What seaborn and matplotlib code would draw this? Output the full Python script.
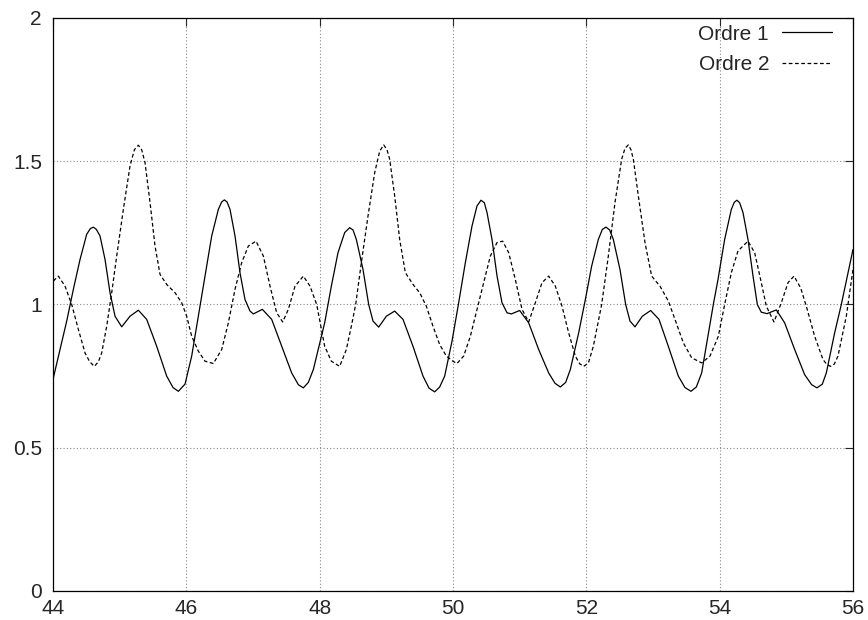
"""Two-curve comparison chart (gnuplot look) drawn with seaborn."""

import matplotlib
matplotlib.use('Agg')
import matplotlib.pyplot as plt
import seaborn as sns
import pandas as pd


# Ordre 1 (solid curve)
x_ordre1 = [44.005, 44.105, 44.205, 44.305, 44.405, 44.505, 44.56, 44.605, 44.65, 44.705, 44.78, 44.855,
            44.93, 45.03, 45.155, 45.28, 45.405, 45.555, 45.705, 45.8, 45.88, 45.98,
            46.08, 46.18, 46.28, 46.38, 46.48, 46.53, 46.57, 46.61, 46.655, 46.73, 46.805, 46.88,
            46.955, 47.005, 47.14, 47.28, 47.43, 47.58, 47.68, 47.755, 47.83, 47.905, 47.975,
            48.075, 48.175, 48.275, 48.375, 48.45, 48.5, 48.55, 48.65, 48.735, 48.8, 48.885,
            49.0, 49.125, 49.25, 49.4, 49.55, 49.64, 49.725, 49.8, 49.875, 49.985,
            50.085, 50.185, 50.285, 50.36, 50.42, 50.47, 50.51, 50.585, 50.66, 50.735, 50.81,
            50.875, 51.0, 51.135, 51.285, 51.435, 51.53, 51.61, 51.69, 51.76, 51.885, 51.985,
            52.08, 52.18, 52.24, 52.295, 52.35, 52.405, 52.505, 52.59, 52.655, 52.73, 52.84, 52.965,
            53.09, 53.23, 53.38, 53.48, 53.57, 53.65, 53.73, 53.905, 53.975,
            54.075, 54.175, 54.22, 54.26, 54.3, 54.35, 54.425, 54.5, 54.565, 54.625, 54.71, 54.85,
            54.975, 55.125, 55.275, 55.38, 55.46, 55.54, 55.6, 55.725, 55.825, 56.0]
y_ordre1 = [0.744, 0.843, 0.942, 1.053, 1.157, 1.245, 1.265, 1.27, 1.262, 1.239, 1.157, 1.041,
            0.959, 0.922, 0.959, 0.98, 0.948, 0.854, 0.75, 0.71, 0.697, 0.722,
            0.82, 0.959, 1.1, 1.239, 1.332, 1.358, 1.365, 1.358, 1.332, 1.239, 1.11, 1.017,
            0.977, 0.967, 0.983, 0.948, 0.854, 0.761, 0.72, 0.709, 0.728, 0.773, 0.84,
            0.936, 1.064, 1.181, 1.251, 1.268, 1.26, 1.227, 1.122, 1.0, 0.942, 0.921,
            0.959, 0.977, 0.948, 0.854, 0.75, 0.708, 0.695, 0.712, 0.75, 0.872,
            1.006, 1.146, 1.274, 1.344, 1.364, 1.355, 1.321, 1.227, 1.1, 1.006, 0.971,
            0.967, 0.979, 0.936, 0.843, 0.761, 0.725, 0.712, 0.728, 0.773, 0.901, 1.017,
            1.134, 1.227, 1.262, 1.27, 1.26, 1.227, 1.122, 1.0, 0.942, 0.922, 0.959, 0.979,
            0.948, 0.854, 0.75, 0.71, 0.697, 0.712, 0.761, 1.0, 1.087,
            1.227, 1.332, 1.357, 1.364, 1.355, 1.321, 1.227, 1.1, 1.0, 0.973, 0.968, 0.981,
            0.936, 0.843, 0.755, 0.72, 0.709, 0.722, 0.761, 0.901, 1.0, 1.192]

# Ordre 2 (dashed curve)
x_ordre2 = [44.005, 44.08, 44.18, 44.28, 44.38, 44.48, 44.55, 44.62, 44.68, 44.73, 44.805, 44.88,
            44.955, 45.055, 45.155, 45.22, 45.28, 45.33, 45.38, 45.455, 45.53, 45.605, 45.705, 45.83,
            45.93, 46.005, 46.08, 46.18, 46.28, 46.405, 46.53, 46.63, 46.73, 46.83,
            46.93, 47.045, 47.155, 47.255, 47.355, 47.445, 47.53, 47.63, 47.755, 47.855,
            47.955, 48.075, 48.175, 48.3, 48.4, 48.475, 48.54, 48.625, 48.725, 48.825,
            48.9, 48.96, 49.01, 49.05, 49.125, 49.2, 49.285, 49.4, 49.5, 49.6, 49.7, 49.8,
            49.9, 50.0, 50.06, 50.16, 50.26, 50.36, 50.46, 50.56, 50.66, 50.745,
            50.835, 50.935, 51.035, 51.135, 51.235, 51.335, 51.435, 51.535, 51.635, 51.735,
            51.835, 51.9, 51.96, 52.03, 52.105, 52.23, 52.33, 52.43, 52.53, 52.58, 52.63, 52.67, 52.705, 52.78,
            52.88, 52.98, 53.105, 53.23, 53.33, 53.455, 53.58, 53.73, 53.855, 53.98,
            54.075, 54.175, 54.275, 54.425, 54.525, 54.625, 54.7, 54.815, 54.925, 55.025,
            55.115, 55.215, 55.3, 55.425, 55.55, 55.61, 55.665, 55.72, 55.775, 55.9, 56.0]
y_ordre2 = [1.082, 1.099, 1.064, 1.0, 0.913, 0.831, 0.8, 0.784, 0.8, 0.831, 0.924, 1.041,
            1.169, 1.332, 1.484, 1.54, 1.556, 1.54, 1.495, 1.356, 1.204, 1.105, 1.07, 1.041,
            1.006, 0.959, 0.889, 0.837, 0.802, 0.794, 0.843, 0.936, 1.053, 1.146,
            1.204, 1.221, 1.169, 1.064, 0.971, 0.939, 0.983, 1.064, 1.099, 1.064,
            1.0, 0.854, 0.802, 0.784, 0.843, 0.924, 1.0, 1.146, 1.309, 1.46,
            1.535, 1.557, 1.54, 1.507, 1.379, 1.227, 1.111, 1.07, 1.041, 0.994, 0.924, 0.86,
            0.82, 0.802, 0.794, 0.82, 0.889, 0.983, 1.076, 1.169, 1.216, 1.221,
            1.181, 1.087, 0.983, 0.939, 1.006, 1.076, 1.099, 1.064, 0.994, 0.901,
            0.82, 0.793, 0.784, 0.795, 0.854, 1.0, 1.169, 1.356, 1.507, 1.545, 1.557, 1.54, 1.507, 1.379,
            1.216, 1.099, 1.064, 1.012, 0.948, 0.866, 0.814, 0.796, 0.82, 0.889,
            1.0, 1.111, 1.187, 1.221, 1.181, 1.076, 0.994, 0.939, 1.006, 1.076,
            1.099, 1.058, 0.994, 0.889, 0.808, 0.79, 0.784, 0.792, 0.82, 0.959, 1.122]

x_ticks = [44, 46, 48, 50, 52, 54, 56]
y_ticks = [0, 0.5, 1, 1.5, 2]
y_tick_labels = ['0', '0.5', '1', '1.5', '2']

sns.set_style('white')
plt.rcParams['font.family'] = ['Liberation Sans', 'DejaVu Sans']

df1 = pd.DataFrame({'x': x_ordre1, 'y': y_ordre1})
df2 = pd.DataFrame({'x': x_ordre2, 'y': y_ordre2})

fig = plt.figure(figsize=(8.68, 6.2), dpi=100)
ax = fig.add_axes([0.0611, 0.0468, 0.9216, 0.9242])

sns.lineplot(data=df1, x='x', y='y', ax=ax, color='black', lw=0.9,
             sort=False, estimator=None, label='Ordre 1')
sns.lineplot(data=df2, x='x', y='y', ax=ax, color='black', lw=0.9,
             sort=False, estimator=None, label='Ordre 2', dashes=False)
ax.lines[1].set_dashes((3, 2))

ax.set_xlim(44, 56)
ax.set_ylim(0, 2)
ax.set_xticks(x_ticks)
ax.set_yticks(y_ticks)
ax.set_yticklabels(y_tick_labels)
ax.set_xlabel('')
ax.set_ylabel('')

ax.grid(True, color='#888888', linestyle=(0, (1, 2)), linewidth=0.8)
ax.tick_params(direction='in', length=6, width=0.8, top=True, right=True,
               labelsize=15)
ax.tick_params(axis='x', pad=6)
ax.tick_params(axis='y', pad=8)
for side in ax.spines.values():
    side.set_color('black')
    side.set_linewidth(0.9)

# gnuplot-style key: text first, sample line after it
leg = ax.legend(loc='upper right', bbox_to_anchor=(0.979, 0.9956), frameon=False,
                markerfirst=False, fontsize=15, handlelength=2.4, borderaxespad=0,
                borderpad=0.2, labelspacing=0.54, handletextpad=0.62)

plt.savefig('out.png', dpi=100)
